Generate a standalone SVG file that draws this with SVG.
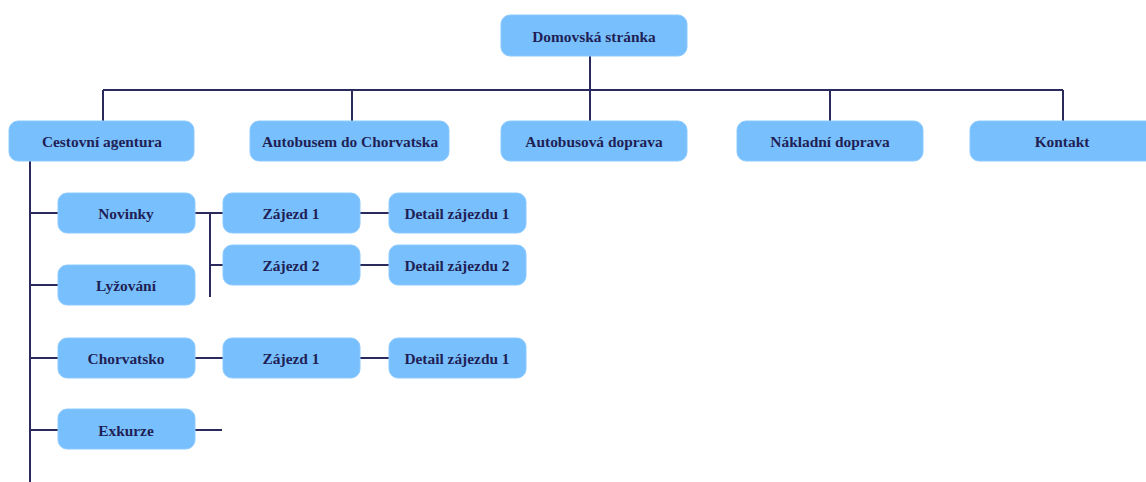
<svg xmlns="http://www.w3.org/2000/svg" width="1146" height="482" viewBox="0 0 1146 482">
<style>
.n rect{fill:#78bffd;stroke:#8ccaff;stroke-width:1}
.n text{font-family:"Liberation Serif",serif;font-weight:bold;font-size:15.4px;fill:#1f1f55;text-anchor:middle;dominant-baseline:central}
.c path{stroke:#2a2a5c;stroke-width:2;fill:none}
</style>
<rect width="1146" height="482" fill="#ffffff"/>
<g class="c">
<path d="M590 56V90M103 90H1063M103 90V121M352 90V121M590 90V121M830 90V121M1063 90V121"/>
<path d="M30 161V482M30 213H58M30 285H58M30 358H58M30 430H58"/>
<path d="M195 213H223M210 213V297M210 265H223M360 213H389M360 265H389"/>
<path d="M195 358H223M360 358H389M195 430H222"/>
</g>
<g id="home" class="n"><rect x="501" y="15" width="186" height="41" rx="9"/><text x="594" y="36">Domovská stránka</text></g>
<g id="cestovni" class="n"><rect x="9" y="121" width="185" height="40" rx="9"/><text x="102" y="141">Cestovní agentura</text></g>
<g id="autobusem" class="n"><rect x="250" y="121" width="199" height="40" rx="9"/><text x="350" y="141">Autobusem do Chorvatska</text></g>
<g id="autobusova" class="n"><rect x="501" y="121" width="186" height="40" rx="9"/><text x="594" y="141">Autobusová doprava</text></g>
<g id="nakladni" class="n"><rect x="737" y="121" width="186" height="40" rx="9"/><text x="830" y="141">Nákladní doprava</text></g>
<g id="kontakt" class="n"><rect x="970" y="121" width="185" height="40" rx="9"/><text x="1062" y="141">Kontakt</text></g>
<g id="novinky" class="n"><rect x="58" y="193" width="137" height="40" rx="9"/><text x="126" y="213">Novinky</text></g>
<g id="zajezd1a" class="n"><rect x="223" y="193" width="137" height="40" rx="9"/><text x="291" y="213">Zájezd 1</text></g>
<g id="detail1a" class="n"><rect x="389" y="193" width="137" height="40" rx="9"/><text x="457" y="213">Detail zájezdu 1</text></g>
<g id="zajezd2" class="n"><rect x="223" y="245" width="137" height="40" rx="9"/><text x="291" y="265">Zájezd 2</text></g>
<g id="detail2" class="n"><rect x="389" y="245" width="137" height="40" rx="9"/><text x="457" y="265">Detail zájezdu 2</text></g>
<g id="lyzovani" class="n"><rect x="58" y="265" width="137" height="40" rx="9"/><text x="126" y="285">Lyžování</text></g>
<g id="chorvatsko" class="n"><rect x="58" y="338" width="137" height="40" rx="9"/><text x="126" y="358">Chorvatsko</text></g>
<g id="zajezd1b" class="n"><rect x="223" y="338" width="137" height="40" rx="9"/><text x="291" y="358">Zájezd 1</text></g>
<g id="detail1b" class="n"><rect x="389" y="338" width="137" height="40" rx="9"/><text x="457" y="358">Detail zájezdu 1</text></g>
<g id="exkurze" class="n"><rect x="58" y="409" width="137" height="40" rx="9"/><text x="126" y="430">Exkurze</text></g>
</svg>
